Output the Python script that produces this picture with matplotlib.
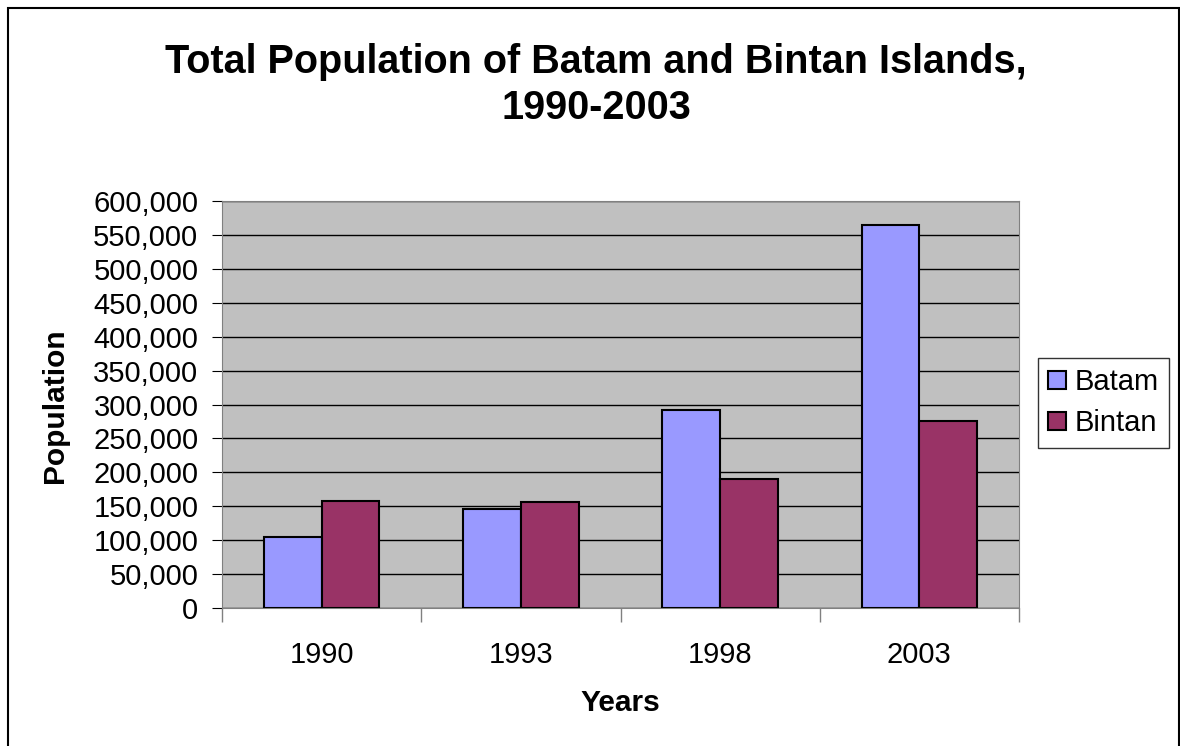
import matplotlib
matplotlib.use("Agg")
import matplotlib.pyplot as plt
import numpy as np
from matplotlib.ticker import FuncFormatter, FixedLocator

years = ["1990", "1993", "1998", "2003"]
batam = [104000, 146000, 292000, 564000]
bintan = [158000, 156000, 190000, 275000]

plt.rcParams['font.family'] = ['Liberation Sans', 'DejaVu Sans']

fig = plt.figure(figsize=(11.8, 7.46), dpi=100)
ax = fig.add_axes([222/1180, 1 - 608/746, 797/1180, 407/746])
ax.set_facecolor('#c0c0c0')

x = np.arange(len(years))
w = 0.29
ax.bar(x - w/2, batam, w, color='#9999ff', edgecolor='black', linewidth=1.5, label='Batam', zorder=3)
ax.bar(x + w/2, bintan, w, color='#993366', edgecolor='black', linewidth=1.5, label='Bintan', zorder=3)

ax.set_xlim(-0.5, 3.5)
ax.set_ylim(0, 600000)
ax.set_yticks(np.arange(0, 600001, 50000))
ax.yaxis.set_major_formatter(FuncFormatter(lambda v, p: f"{int(v):,}"))
ax.yaxis.grid(True, color='black', linewidth=1.0, zorder=1)
ax.set_axisbelow(True)

ax.set_xticks(x)
ax.set_xticklabels(years, fontsize=21)
ax.tick_params(axis='x', length=0, pad=24)
ax.xaxis.set_minor_locator(FixedLocator(np.arange(-0.5, 4, 1)))
ax.tick_params(axis='x', which='minor', length=10, direction='out', width=1, color='#808080')
ax.tick_params(axis='y', labelsize=21, length=7, direction='out', pad=10)

for s in ['top', 'right', 'left', 'bottom']:
    ax.spines[s].set_color('#808080')

ax.set_xlabel("Years", fontsize=21.5, fontweight='bold', va='center')
ax.xaxis.set_label_coords(0.5, (608 - 703) / 407)
ax.set_ylabel("Population", fontsize=21.5, fontweight='bold', va='center')
ax.yaxis.set_label_coords((55 - 222) / 797, (608 - 406) / 407)

fig.text(596/1180, 1 - 62/746, "Total Population of Batam and Bintan Islands,",
         ha='center', va='center', fontsize=28.5, fontweight='bold')
fig.text(596/1180, 1 - 108/746, "1990-2003",
         ha='center', va='center', fontsize=28.5, fontweight='bold')

leg = fig.legend(loc='upper left', bbox_to_anchor=(1038/1180, 1 - 358/746),
                 fontsize=21, frameon=True, fancybox=False, edgecolor='black',
                 handlelength=0.6, handleheight=0.6, handletextpad=0.3,
                 borderpad=0.35, labelspacing=0.45, borderaxespad=0)
leg.get_frame().set_linewidth(1.0)

fig.patches.append(plt.Rectangle((8/1180, -0.01), 1171/1180, 1.01 - 8/746, transform=fig.transFigure,
                                 fill=False, edgecolor='black', linewidth=1.5))

fig.savefig("out.png", dpi=100)
